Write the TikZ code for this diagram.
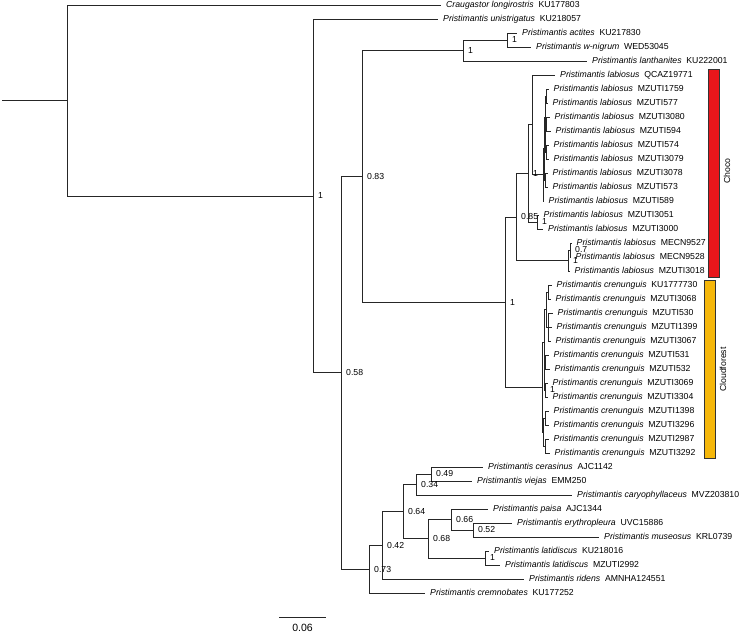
\documentclass[tikz,border=0pt]{standalone}
\usepackage{fontspec}
\setmainfont{Liberation Sans}
\definecolor{chocored}{HTML}{E8161B}
\definecolor{cloudgold}{HTML}{F5B70A}
\newcommand{\taxon}[2]{\textit{#1}\hspace{0.55em}#2}
\tikzset{
  branch/.style={draw=black!85,line width=0.8pt},
  tip/.style={anchor=west,inner xsep=5pt,inner ysep=0pt,text height=6.3pt,text depth=1.7pt,
    font=\fontsize{8.7}{10}\selectfont},
  supp/.style={anchor=west,xshift=5pt,inner sep=0pt,font=\fontsize{8.7}{10}\selectfont},
  regionbar/.style={draw=black!80,line width=0.5pt},
  region/.style={rotate=90,font=\fontsize{8.7}{10}\selectfont}
}

\begin{document}
\begin{tikzpicture}[x=1pt,y=-1pt]
\useasboundingbox (0,0) rectangle (739,634);
\node[tip] (t0) at (441,5) {\taxon{Craugastor longirostris}{KU177803}};
\node[tip] (t1) at (438,19) {\taxon{Pristimantis unistrigatus}{KU218057}};
\node[tip] (t2) at (517,33) {\taxon{Pristimantis actites}{KU217830}};
\node[tip] (t3) at (531,47) {\taxon{Pristimantis w-nigrum}{WED53045}};
\node[tip] (t4) at (587,61) {\taxon{Pristimantis lanthanites}{KU222001}};
\node[tip] (t5) at (555,75) {\taxon{Pristimantis labiosus}{QCAZ19771}};
\node[tip] (t6) at (548.5,89) {\taxon{Pristimantis labiosus}{MZUTI1759}};
\node[tip] (t7) at (547.5,103) {\taxon{Pristimantis labiosus}{MZUTI577}};
\node[tip] (t8) at (549.5,117) {\taxon{Pristimantis labiosus}{MZUTI3080}};
\node[tip] (t9) at (550.5,131) {\taxon{Pristimantis labiosus}{MZUTI594}};
\node[tip] (t10) at (548.5,145) {\taxon{Pristimantis labiosus}{MZUTI574}};
\node[tip] (t11) at (548.5,159) {\taxon{Pristimantis labiosus}{MZUTI3079}};
\node[tip] (t12) at (547.5,173) {\taxon{Pristimantis labiosus}{MZUTI3078}};
\node[tip] (t13) at (547.5,187) {\taxon{Pristimantis labiosus}{MZUTI573}};
\node[tip] (t14) at (543.5,201) {\taxon{Pristimantis labiosus}{MZUTI589}};
\node[tip] (t15) at (538.5,215) {\taxon{Pristimantis labiosus}{MZUTI3051}};
\node[tip] (t16) at (543,229) {\taxon{Pristimantis labiosus}{MZUTI3000}};
\node[tip] (t17) at (571.5,243) {\taxon{Pristimantis labiosus}{MECN9527}};
\node[tip] (t18) at (570.5,257) {\taxon{Pristimantis labiosus}{MECN9528}};
\node[tip] (t19) at (569.5,271) {\taxon{Pristimantis labiosus}{MZUTI3018}};
\node[tip] (t20) at (551.5,285) {\taxon{Pristimantis crenunguis}{KU1777730}};
\node[tip] (t21) at (550.5,299) {\taxon{Pristimantis crenunguis}{MZUTI3068}};
\node[tip] (t22) at (552.5,313) {\taxon{Pristimantis crenunguis}{MZUTI530}};
\node[tip] (t23) at (551.5,327) {\taxon{Pristimantis crenunguis}{MZUTI1399}};
\node[tip] (t24) at (550.5,341) {\taxon{Pristimantis crenunguis}{MZUTI3067}};
\node[tip] (t25) at (548.5,355) {\taxon{Pristimantis crenunguis}{MZUTI531}};
\node[tip] (t26) at (549.5,369) {\taxon{Pristimantis crenunguis}{MZUTI532}};
\node[tip] (t27) at (547.5,383) {\taxon{Pristimantis crenunguis}{MZUTI3069}};
\node[tip] (t28) at (547.5,397) {\taxon{Pristimantis crenunguis}{MZUTI3304}};
\node[tip] (t29) at (548.5,411) {\taxon{Pristimantis crenunguis}{MZUTI1398}};
\node[tip] (t30) at (548.5,425) {\taxon{Pristimantis crenunguis}{MZUTI3296}};
\node[tip] (t31) at (548.5,439) {\taxon{Pristimantis crenunguis}{MZUTI2987}};
\node[tip] (t32) at (549.5,453) {\taxon{Pristimantis crenunguis}{MZUTI3292}};
\node[tip] (t33) at (483,467) {\taxon{Pristimantis cerasinus}{AJC1142}};
\node[tip] (t34) at (472,481) {\taxon{Pristimantis viejas}{EMM250}};
\node[tip] (t35) at (572,495) {\taxon{Pristimantis caryophyllaceus}{MVZ203810}};
\node[tip] (t36) at (488,509) {\taxon{Pristimantis paisa}{AJC1344}};
\node[tip] (t37) at (512,523) {\taxon{Pristimantis erythropleura}{UVC15886}};
\node[tip] (t38) at (599,537) {\taxon{Pristimantis museosus}{KRL0739}};
\node[tip] (t39) at (489,551) {\taxon{Pristimantis latidiscus}{KU218016}};
\node[tip] (t40) at (500,565) {\taxon{Pristimantis latidiscus}{MZUTI2992}};
\node[tip] (t41) at (524,579) {\taxon{Pristimantis ridens}{AMNHA124551}};
\node[tip] (t42) at (425,593) {\taxon{Pristimantis cremnobates}{KU177252}};

\coordinate (root) at (2,100.45);
\coordinate (n0) at (67,100.45);
\coordinate (n1) at (313,195.9);
\coordinate (n58) at (341,372.8);
\coordinate (n83) at (362,176.35);
\coordinate (nA1) at (463,50.5);
\coordinate (nA2) at (507,40);
\coordinate (nA) at (505,302.2);
\coordinate (nB) at (516,216.97);
\coordinate (nC) at (528,173.44);
\coordinate (nD) at (532,124.88);
\coordinate (nF) at (543,174.75);
\coordinate (nG) at (544,148.5);
\coordinate (nG1) at (545,117);
\coordinate (nG1a) at (546,96);
\coordinate (nG1b) at (545.5,138);
\coordinate (nG1c) at (546.5,124);
\coordinate (nG1d) at (546.5,152);
\coordinate (nG2) at (545.5,180);
\coordinate (nE) at (537,222);
\coordinate (nH) at (568,260.5);
\coordinate (nI) at (570,250);
\coordinate (nJ) at (542,387.4);
\coordinate (nK) at (544,342.75);
\coordinate (nK1) at (546,309.5);
\coordinate (nK1a) at (548,292);
\coordinate (nK1b) at (548,327);
\coordinate (nK2) at (544.5,376);
\coordinate (nK2a) at (545.5,362);
\coordinate (nK2b) at (545,390);
\coordinate (nL) at (543,432);
\coordinate (nL1a) at (545,418);
\coordinate (nL1b) at (545.5,446);
\coordinate (n73) at (369,569.2);
\coordinate (n42) at (382,545.3);
\coordinate (n64) at (403,511.6);
\coordinate (n34) at (416,484.5);
\coordinate (n49) at (431,474);
\coordinate (n68) at (428,538.75);
\coordinate (n66) at (451,519.5);
\coordinate (n52) at (473,530);
\coordinate (nLat) at (485,558);

\draw[branch] (root) -- (n0);
\draw[branch] (n0) |- (t0) (n0) |- (n1);
\draw[branch] (n1) |- (t1) (n1) |- (n58);
\draw[branch] (n58) |- (n83) (n58) |- (n73);
\draw[branch] (n83) |- (nA1) (n83) |- (nA);
\draw[branch] (nA1) |- (nA2) (nA1) |- (t4);
\draw[branch] (nA2) |- (t2) (nA2) |- (t3);
\draw[branch] (nA) |- (nB) (nA) |- (nJ);
\draw[branch] (nB) |- (nC) (nB) |- (nH);
\draw[branch] (nC) |- (nD) (nC) |- (nE);
\draw[branch] (nD) |- (t5) (nD) |- (nF);
\draw[branch] (nF) |- (nG) (nF) |- (t14);
\draw[branch] (nG) |- (nG1) (nG) |- (nG2);
\draw[branch] (nG1) |- (nG1a) (nG1) |- (nG1b);
\draw[branch] (nG1a) |- (t6) (nG1a) |- (t7);
\draw[branch] (nG1b) |- (nG1c) (nG1b) |- (nG1d);
\draw[branch] (nG1c) |- (t8) (nG1c) |- (t9);
\draw[branch] (nG1d) |- (t10) (nG1d) |- (t11);
\draw[branch] (nG2) |- (t12) (nG2) |- (t13);
\draw[branch] (nE) |- (t15) (nE) |- (t16);
\draw[branch] (nH) |- (nI) (nH) |- (t19);
\draw[branch] (nI) |- (t17) (nI) |- (t18);
\draw[branch] (nJ) |- (nK) (nJ) |- (nL);
\draw[branch] (nK) |- (nK1) (nK) |- (nK2);
\draw[branch] (nK1) |- (nK1a) (nK1) |- (nK1b);
\draw[branch] (nK1a) |- (t20) (nK1a) |- (t21);
\draw[branch] (nK1b) |- (t22) (nK1b) |- (t23) (nK1b) |- (t24);
\draw[branch] (nK2) |- (nK2a) (nK2) |- (nK2b);
\draw[branch] (nK2a) |- (t25) (nK2a) |- (t26);
\draw[branch] (nK2b) |- (t27) (nK2b) |- (t28);
\draw[branch] (nL) |- (nL1a) (nL) |- (nL1b);
\draw[branch] (nL1a) |- (t29) (nL1a) |- (t30);
\draw[branch] (nL1b) |- (t31) (nL1b) |- (t32);
\draw[branch] (n73) |- (n42) (n73) |- (t42);
\draw[branch] (n42) |- (n64) (n42) |- (t41);
\draw[branch] (n64) |- (n34) (n64) |- (n68);
\draw[branch] (n34) |- (n49) (n34) |- (t35);
\draw[branch] (n49) |- (t33) (n49) |- (t34);
\draw[branch] (n68) |- (n66) (n68) |- (nLat);
\draw[branch] (n66) |- (t36) (n66) |- (n52);
\draw[branch] (n52) |- (t37) (n52) |- (t38);
\draw[branch] (nLat) |- (t39) (nLat) |- (t40);

\node[supp] (s1) at (n1) {1};
\node[supp] (s58) at (n58) {0.58};
\node[supp] (s83) at (n83) {0.83};
\node[supp] (sA1) at (nA1) {1};
\node[supp] (sA2) at (nA2) {1};
\node[supp] (sA) at (nA) {1};
\node[supp] (sB) at (nB) {0.85};
\node[supp] (sC) at (nC) {1};
\node[supp] (sE) at (nE) {1};
\node[supp] (sI) at (nI) {0.7};
\node[supp] (sH) at (nH) {1};
\node[supp] (sK2b) at (nK2b) {1};
\node[supp] (s49) at (n49) {0.49};
\node[supp] (s34) at (n34) {0.34};
\node[supp] (s64) at (n64) {0.64};
\node[supp] (s66) at (n66) {0.66};
\node[supp] (s52) at (n52) {0.52};
\node[supp] (s68) at (n68) {0.68};
\node[supp] (sLat) at (nLat) {1};
\node[supp] (s42) at (n42) {0.42};
\node[supp] (s73) at (n73) {0.73};

\draw[regionbar,fill=chocored] (708,69) rectangle (719,277);
\draw[regionbar,fill=cloudgold] (704,280) rectangle (715,458);
\node[region] (lchoco) at (727,171) {Choco};
\node[region] (lcloud) at (723,369.5) {Cloudforest};

\coordinate (sb0) at (279,617);
\coordinate (sb1) at (326,617);
\draw[branch] (sb0) -- (sb1);
\node[font=\fontsize{10.5}{12}\selectfont] (sblab) at (302.5,628) {0.06};
\end{tikzpicture}
\end{document}
